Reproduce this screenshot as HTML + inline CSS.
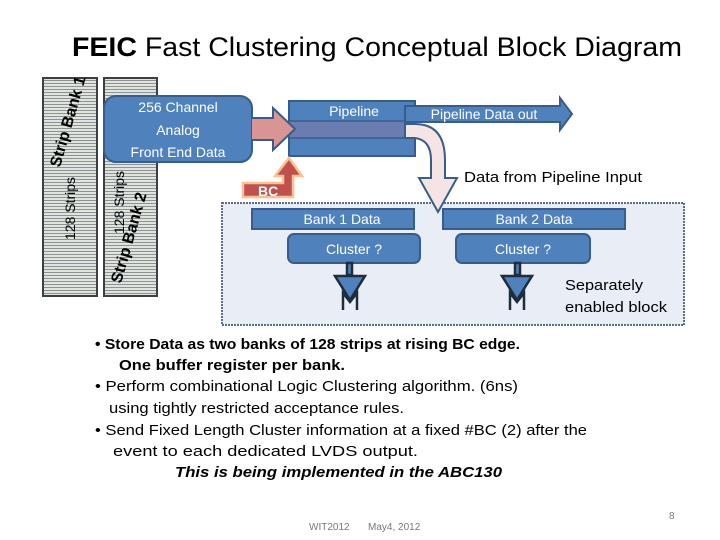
<!DOCTYPE html>
<html><head><meta charset="utf-8"><style>
body{margin:0;width:720px;height:540px;background:#fff;overflow:hidden}
svg{display:block}
text{font-family:"Liberation Sans",sans-serif}
</style></head><body>
<svg width="720" height="540" viewBox="0 0 720 540">
<defs>
<pattern id="st" width="4" height="3" patternUnits="userSpaceOnUse">
<rect width="4" height="3" fill="#dfe4dc"/><rect y="2" width="4" height="1" fill="#8c9296"/>
</pattern>
</defs>
<text x="72" y="56" font-size="27" fill="#000" textLength="610" lengthAdjust="spacingAndGlyphs"><tspan font-weight="bold">FEIC</tspan>  Fast Clustering Conceptual Block Diagram</text>

<!-- strip banks -->
<rect x="43" y="78" width="54" height="218" fill="url(#st)" stroke="#3a3f44" stroke-width="2"/>
<rect x="104" y="78" width="53" height="218" fill="url(#st)" stroke="#3a3f44" stroke-width="2"/>
<text transform="translate(75,240) rotate(-90)" font-size="14" fill="#000">128 Strips</text>
<text transform="translate(60,168) rotate(-74)" font-size="16" font-weight="bold" fill="#000" font-family="Liberation Serif">Strip Bank 1</text>
<text transform="translate(124,234) rotate(-90)" font-size="14" fill="#000">128 Strips</text>
<text transform="translate(121,284) rotate(-74)" font-size="16" font-weight="bold" fill="#000" font-family="Liberation Serif">Strip Bank 2</text>

<!-- dotted box -->
<rect x="222" y="203" width="462" height="122" fill="#e9eef6" stroke="#5d6f86" stroke-width="2" stroke-dasharray="2,1"/>

<!-- front end box -->
<rect x="104" y="96" width="148" height="66" rx="12" fill="#4f81bd" stroke="#385d8a" stroke-width="2"/>
<text x="178" y="112" font-size="14" fill="#fff" text-anchor="middle">256 Channel</text>
<text x="178" y="135" font-size="14" fill="#fff" text-anchor="middle">Analog</text>
<text x="178" y="157" font-size="14" fill="#fff" text-anchor="middle">Front  End Data</text>

<!-- pipeline -->
<rect x="289" y="101" width="126" height="55" fill="#4f81bd" stroke="#385d8a" stroke-width="2"/>
<rect x="289" y="121" width="126" height="17" fill="#6a7cb0" stroke="#385d8a" stroke-width="1.5"/>
<text x="354" y="116" font-size="14" fill="#fff" text-anchor="middle">Pipeline</text>
<polygon points="252,118 273,118 273,108 295,129 273,150 273,140 252,140" fill="#d99594" stroke="#385d8a" stroke-width="2"/>
<rect x="252" y="119" width="22" height="20" fill="#d99594"/>

<!-- curved down arrow -->
<path d="M405,124 L415,124 Q445,124 445,160 L445,178 L457,178 L438,212 L419,178 L431,178 L431,160 Q431,140 415,138 L405,138 Z" fill="#f5e4e4" stroke="#385d8a" stroke-width="2"/>

<!-- data out arrow -->
<polygon points="405,106 560,106 560,98 572,114 560,130 560,122 405,122" fill="#4f81bd" stroke="#385d8a" stroke-width="2"/>
<text x="484" y="119" font-size="14" fill="#fff" text-anchor="middle">Pipeline Data out</text>
<text x="464" y="182" font-size="14.5" fill="#000" textLength="178" lengthAdjust="spacingAndGlyphs">Data from Pipeline Input</text>

<!-- BC arrow -->
<polygon points="243,197 293,197 293,176 302,176 289,158 275,176 283,176 283,183 243,183" fill="#c0504d" stroke="#fac090" stroke-width="2.5"/>
<text x="258" y="196" font-size="14" font-weight="bold" fill="#fff">BC</text>

<!-- banks -->
<rect x="252" y="209" width="162" height="20" fill="#4f81bd" stroke="#385d8a" stroke-width="2"/>
<text x="342" y="224" font-size="14" fill="#fff" text-anchor="middle">Bank 1 Data</text>
<rect x="443" y="209" width="182" height="20" fill="#4f81bd" stroke="#385d8a" stroke-width="2"/>
<text x="534" y="224" font-size="14" fill="#fff" text-anchor="middle">Bank 2 Data</text>
<rect x="288" y="234" width="132" height="29" rx="6" fill="#4f81bd" stroke="#385d8a" stroke-width="2"/>
<text x="354" y="254" font-size="14" fill="#fff" text-anchor="middle">Cluster ?</text>
<rect x="456" y="234" width="134" height="29" rx="6" fill="#4f81bd" stroke="#385d8a" stroke-width="2"/>
<text x="523" y="254" font-size="14" fill="#fff" text-anchor="middle">Cluster ?</text>

<!-- drivers -->
<g stroke="#1f2c3a" stroke-width="2.5" fill="#4f81bd">
<rect x="347" y="263" width="5" height="12"/>
<polygon points="335,276 365,276 350,300"/>
<polyline points="343,310 343,293 350,302 357,293 357,310" fill="none"/>
<rect x="515" y="263" width="5" height="12"/>
<polygon points="502,276 532,276 517,300"/>
<polyline points="510,310 510,293 517,302 524,293 524,310" fill="none"/>
</g>
<text x="565" y="290" font-size="14.5" fill="#000" textLength="78" lengthAdjust="spacingAndGlyphs">Separately</text>
<text x="565" y="312" font-size="14.5" fill="#000" textLength="102" lengthAdjust="spacingAndGlyphs">enabled block</text>

<!-- bullets -->
<g font-size="15" fill="#000">
<text x="95" y="349" font-weight="bold" textLength="425" lengthAdjust="spacingAndGlyphs">• Store Data as two banks of 128 strips at  rising BC edge.</text>
<text x="119" y="370" font-weight="bold" textLength="226" lengthAdjust="spacingAndGlyphs">One buffer register per bank.</text>
<text x="95" y="391" textLength="423" lengthAdjust="spacingAndGlyphs">• Perform combinational Logic Clustering algorithm.  (6ns)</text>
<text x="109" y="413" textLength="295" lengthAdjust="spacingAndGlyphs">using tightly restricted acceptance rules.</text>
<text x="95" y="435" textLength="492" lengthAdjust="spacingAndGlyphs">•  Send Fixed Length Cluster information at a fixed #BC (2) after the</text>
<text x="113" y="456" textLength="305" lengthAdjust="spacingAndGlyphs">event to each dedicated LVDS output.</text>
<text x="175" y="477" font-weight="bold" font-style="italic" textLength="327" lengthAdjust="spacingAndGlyphs">This is  being  implemented  in   the  ABC130</text>
</g>
<text x="309" y="530" font-size="10" fill="#777">WIT2012</text>
<text x="368" y="530" font-size="10" fill="#777">May4, 2012</text>
<text x="669" y="519" font-size="10" fill="#777">8</text>
</svg>
</body></html>
